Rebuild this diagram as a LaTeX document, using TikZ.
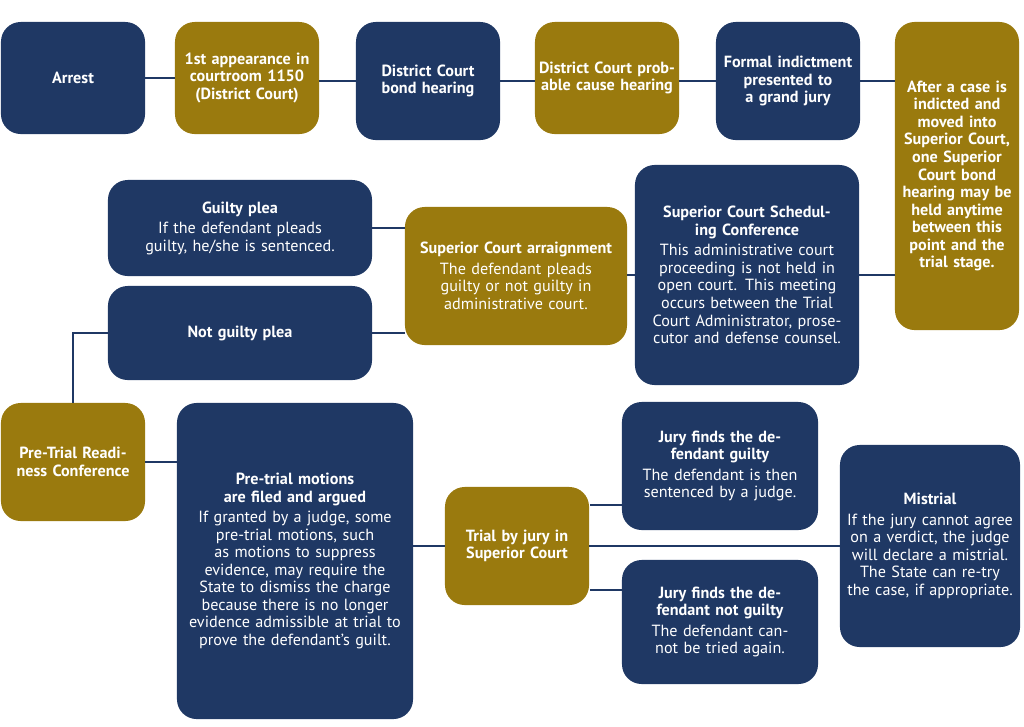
\documentclass[tikz,border=0pt]{standalone}
\usepackage{fontspec}
\setmainfont{PT Sans}
\usetikzlibrary{positioning}
\definecolor{navy}{RGB}{31,56,100}
\definecolor{gold}{RGB}{154,122,14}
\tikzset{
  box/.style={rectangle, rounded corners=14pt, text=white, align=center, font=\fontsize{11.5}{12.5}\selectfont, inner sep=2pt},
  navybox/.style={box, fill=navy},
  goldbox/.style={box, fill=gold},
  link/.style={draw=navy, line width=1.6pt}
}
\begin{document}
\begin{tikzpicture}[x=0.025cm, y=-0.025cm]
\useasboundingbox (0,0) rectangle (1024,726);
% top row
\node[navybox, minimum width=3.6cm, minimum height=2.8cm, text width=3.3cm] (arrest) at (73,78) {\textbf{Arrest}};
\node[goldbox, minimum width=3.6cm, minimum height=2.8cm, text width=3.4cm] (first) at (247,78) {\textbf{1st appearance in courtroom 1150 (District Court)}};
\node[navybox, minimum width=3.6cm, minimum height=2.95cm, text width=3.4cm] (bond) at (428,81) {\textbf{District Court bond hearing}};
\node[goldbox, minimum width=3.6cm, minimum height=2.8cm, text width=3.4cm] (cause) at (607,78) {\textbf{District Court probable cause hearing}};
\node[navybox, minimum width=3.6cm, minimum height=2.95cm, text width=3.4cm] (indict) at (788,81) {\textbf{Formal indictment presented to a grand jury}};
\node[goldbox, minimum width=3.1cm, minimum height=7.7cm, text width=2.8cm] (after) at (957,176) {\textbf{After a case is indicted and moved into Superior Court, one Superior Court bond hearing may be held anytime between this point and the trial stage.}};
% middle row
\node[navybox, minimum width=6.6cm, minimum height=2.4cm, text width=6.2cm] (guilty) at (240,228) {\textbf{Guilty plea}\\[2pt] If the defendant pleads guilty, he/she is sentenced.};
\node[goldbox, minimum width=5.55cm, minimum height=3.45cm, text width=5.3cm] (arraign) at (516,276) {\textbf{Superior Court arraignment}\\[2pt] The defendant pleads guilty or not guilty in administrative court.};
\node[navybox, minimum width=5.6cm, minimum height=5.5cm, text width=5.3cm] (sched) at (747,275) {\textbf{Superior Court Scheduling Conference}\\[2pt] This administrative court proceeding is not held in open court. This meeting occurs between the Trial Court Administrator, prosecutor and defense counsel.};
\node[navybox, minimum width=6.6cm, minimum height=2.35cm, text width=6.2cm] (notguilty) at (240,333) {\textbf{Not guilty plea}};
% bottom row
\node[goldbox, minimum width=3.6cm, minimum height=2.95cm, text width=3.3cm] (ready) at (73,462) {\textbf{Pre-Trial Readiness Conference}};
\node[navybox, minimum width=5.9cm, minimum height=7.9cm, text width=5.5cm] (motions) at (295,561) {\textbf{Pre-trial motions are filed and argued}\\[2pt] If granted by a judge, some pre-trial motions, such as motions to suppress evidence, may require the State to dismiss the charge because there is no longer evidence admissible at trial to prove the defendant’s guilt.};
\node[goldbox, minimum width=3.6cm, minimum height=2.95cm, text width=3.2cm] (trial) at (517,546) {\textbf{Trial by jury in Superior Court}};
\node[navybox, minimum width=4.9cm, minimum height=3.2cm, text width=4.6cm] (jg) at (720,466) {\textbf{Jury finds the defendant guilty}\\[2pt] The defendant is then sentenced by a judge.};
\node[navybox, minimum width=4.9cm, minimum height=3.1cm, text width=4.6cm] (jng) at (720,622) {\textbf{Jury finds the defendant not guilty}\\[2pt] The defendant can-not be tried again.};
\node[navybox, minimum width=4.5cm, minimum height=5.05cm, text width=4.2cm] (mistrial) at (930,546) {\textbf{Mistrial}\\[2pt] If the jury cannot agree on a verdict, the judge will declare a mistrial. The State can re-try the case, if appropriate.};
% connectors
\begin{scope}[on background layer/.try]
\draw[link] (arrest.east) -- (arrest.east -| first.west);
\draw[link] (first.east |- bond) -- (bond.west);
\draw[link] (bond.east) -- (bond.east -| cause.west);
\draw[link] (cause.east |- indict) -- (indict.west);
\draw[link] (indict.east) -- (indict.east -| after.west);
\draw[link] (after.west |- sched) -- (sched.east);
\draw[link] (sched.west) -- (sched.west -| arraign.east);
\draw[link] (arraign.west |- guilty) -- (guilty.east);
\draw[link] (arraign.west |- notguilty) -- (notguilty.east);
\draw[link] (notguilty.west) -| (ready.north);
\draw[link] (ready.east) -- (ready.east -| motions.west);
\draw[link] (motions.east |- trial) -- (trial.west);
\draw[link] (trial.east) -- (mistrial.west);
\coordinate (tg) at (590,505);
\coordinate (tn) at (590,590);
\draw[link] (tg) -- (tg -| jg.west);
\draw[link] (tn) -- (tn -| jng.west);
\end{scope}
\end{tikzpicture}
\end{document}
